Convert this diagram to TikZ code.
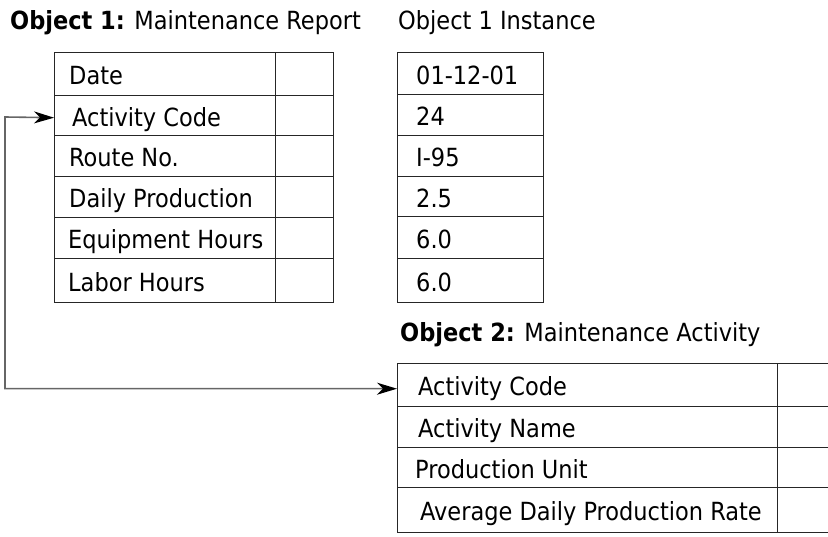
\documentclass[tikz,border=0pt]{standalone}
\usepackage{fontspec}
\setmainfont{DejaVu Sans Condensed}
\usetikzlibrary{arrows.meta}
\begin{document}
\begin{tikzpicture}[x=1pt,y=-1pt,
  font=\fontsize{25}{30}\selectfont,
  cellbox/.style={draw=black!85, line width=1.4pt, anchor=north west, inner sep=0pt},
  txt/.style={anchor=base west, inner sep=0pt},
  title/.style={anchor=base west, inner sep=0pt},
  link/.style={draw=black!60, line width=1.6pt,
    {Stealth[length=20pt,width=12pt,inset=6pt,black]}-{Stealth[length=20pt,width=12pt,inset=6pt,black]}}
]
\useasboundingbox (0,0) rectangle (828,537);
\clip (0,0) rectangle (828,537);
% titles
\node[title] (t1) at (10,30) {\textbf{Object 1:} Maintenance Report};
\node[title] (t2) at (398,30) {Object 1 Instance};
\node[title] (t3) at (400,342) {\textbf{Object 2:} Maintenance Activity};
% table 1
\foreach \n/\y/\h/\ix/\txt in {1/52/43/15/Date, 2/95/40/18/Activity Code, 3/135/41/15/Route No., 4/176/41/15/Daily Production, 5/217/41/14/Equipment Hours, 6/258/44/14/Labor Hours}{
  \node[cellbox, minimum height=\h pt, minimum width=221pt] (a\n) at (54,\y) {};
  \node[txt] (at\n) at ([xshift=\ix pt, yshift=-10.5pt]a\n.west) {\txt};
  \node[cellbox, minimum height=\h pt, minimum width=58pt] (av\n) at (275,\y) {};
}
% table 2
\foreach \n/\y/\h/\txt in {1/52/42/01-12-01, 2/94/41/24, 3/135/41/I-95, 4/176/40/2.5, 5/216/42/6.0, 6/258/44/6.0}{
  \node[cellbox, minimum height=\h pt, minimum width=146pt] (b\n) at (397,\y) {};
  \node[txt] (bt\n) at ([xshift=19pt, yshift=-10.5pt]b\n.west) {\txt};
}
% table 3
\foreach \n/\y/\h/\ix/\txt in {1/363/43/21/Activity Code, 2/406/41/21/Activity Name, 3/447/40/18/Production Unit, 4/487/45/23/Average Daily Production Rate}{
  \node[cellbox, minimum height=\h pt, minimum width=380pt] (c\n) at (397,\y) {};
  \node[txt] (ct\n) at ([xshift=\ix pt, yshift=-10.5pt]c\n.west) {\txt};
  \node[cellbox, minimum height=\h pt, minimum width=70pt] (cv\n) at (777,\y) {};
}
% connector
\coordinate (bend) at (5,117);
\draw[link] ([yshift=-2pt]a2.west) -- (bend) |- ([yshift=-3.5pt]c1.west);
\end{tikzpicture}
\end{document}
